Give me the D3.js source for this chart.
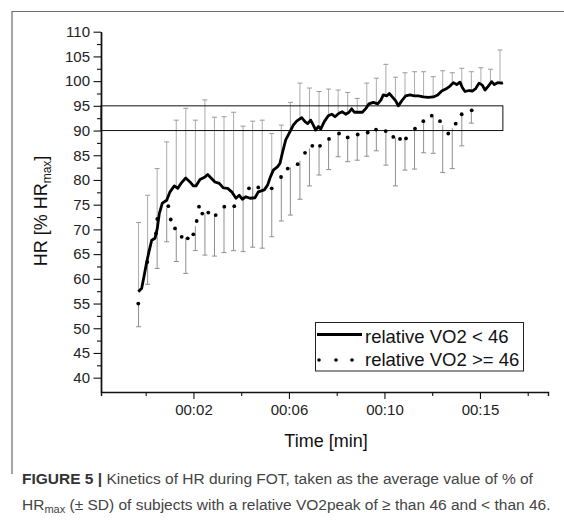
<!DOCTYPE html>
<html>
<head>
<meta charset="utf-8">
<script src="https://cdn.jsdelivr.net/npm/d3@7"></script>
<style>
  body { margin: 0; background: #fff; }
  svg { display: block; font-family: "Liberation Sans", Arial, sans-serif; }
</style>
</head>
<body>
<svg id="chart" width="564" height="523"></svg>
<script>
// x is measured in axis-tick units (ticks sit at 1..9)
const tickPos = [1, 2, 3, 4, 5, 6, 7, 8, 9];
const tickLabels = ["", "00:02", "", "00:06", "", "00:10", "", "00:15", ""];
const yMajor = [40, 45, 50, 55, 60, 65, 70, 75, 80, 85, 90, 95, 100, 105, 110];

// relative VO2 < 46 (solid line)
const solidT = [0.845,0.916,0.971,1.021,1.069,1.126,1.195,1.243,1.285,1.348,1.44,1.509,1.599,1.670,1.739,1.838,1.928,1.997,2.053,2.137,2.242,2.298,2.368,2.451,2.541,2.625,2.717,2.801,2.891,2.960,3.023,3.094,3.184,3.289,3.358,3.484,3.555,3.603,3.672,3.764,3.813,3.861,3.932,4.022,4.091,4.162,4.267,4.336,4.393,4.455,4.510,4.560,4.615,4.665,4.740,4.824,4.895,4.964,5.048,5.117,5.188,5.258,5.314,5.369,5.452,5.536,5.607,5.676,5.766,5.859,5.928,5.976,6.047,6.102,6.164,6.236,6.290,6.361,6.445,6.535,6.625,6.709,6.814,6.918,7.023,7.115,7.199,7.283,7.373,7.442,7.513,7.582,7.630,7.687,7.771,7.840,7.911,7.980,8.049,8.106,8.175,8.246,8.301,8.372,8.455,8.48];
const solidHR = [57.4,58.1,60.8,63.4,65.5,67.8,68.2,70.2,73.2,75.3,75.9,77.6,78.8,78.3,79.3,80.4,79.6,78.8,78.8,80.1,80.6,81.1,80.4,79.6,79.3,78.4,78.3,77.6,76.3,76.9,76.1,76.6,76.3,76.4,77.6,78.0,79.0,80.4,82.0,82.7,83.4,85.4,88.1,89.8,91.1,91.9,92.6,91.8,91.4,92.1,91.1,90.1,90.8,90.3,91.8,93.0,93.3,92.8,93.5,93.8,93.3,93.7,94.4,93.7,93.7,93.7,94.4,95.4,95.7,95.4,96.2,97.2,97.0,97.5,96.8,96.0,95.0,96.0,97.0,97.2,97.0,97.0,96.8,96.7,96.8,97.2,98.0,98.4,99.0,99.7,99.3,99.8,98.7,97.9,98.1,98.0,98.5,99.6,99.2,98.2,99.0,99.9,99.3,99.7,99.6,99.7];

// relative VO2 >= 46 (dotted)
const dotT = [0.845,1.034,1.216,1.243,1.473,1.524,1.614,1.754,1.880,1.997,2.068,2.116,2.185,2.311,2.466,2.646,2.855,3.163,3.358,3.639,3.834,3.974,4.183,4.336,4.489,4.650,4.839,5.048,5.230,5.440,5.649,5.823,6.026,6.185,6.326,6.451,6.640,6.814,6.990,7.163,7.337,7.492,7.618,7.827];
const dotHR = [55.0,63.4,69.2,72.1,74.7,72.0,70.2,68.5,68.2,69.0,71.7,74.6,73.2,73.4,72.9,74.6,74.7,78.3,78.5,78.3,80.6,82.3,83.2,85.5,86.9,86.9,88.3,89.4,88.6,89.2,89.6,90.2,89.9,88.7,88.3,88.4,90.4,91.9,93.0,91.9,89.4,91.4,93.3,94.1];

// SD bars: top = solid + SD, bottom = dotted - SD
const errT = [0.85,1.04,1.24,1.44,1.64,1.84,2.04,2.24,2.44,2.64,2.84,3.04,3.24,3.44,3.64,3.84,4.03,4.23,4.43,4.63,4.83,5.03,5.23,5.43,5.63,5.83,6.03,6.23,6.43,6.63,6.82,7.02,7.22,7.42,7.62,7.82,8.02,8.22,8.42];
const errHi = [71.4,76.9,82.3,87.7,92.1,94.5,92.1,96.2,92.7,92.8,93.7,90.9,91.9,92.1,89.4,91.1,95.7,99.6,98.6,97.9,98.4,98.2,97.7,96.5,99.6,100.6,103.4,100.8,101.7,101.9,101.9,100.9,102.1,101.7,102.6,101.9,102.7,102.4,106.3];
const errLo = [50.3,58.9,62.1,67.5,63.5,61.1,65.7,64.8,64.6,65.3,65.7,65.5,66.4,66.2,68.5,71.7,72.9,76.1,78.8,81.0,82.1,84.7,83.7,84.0,84.8,85.9,83.0,78.8,82.0,82.2,85.5,85.4,81.5,82.3,86.9,91.5,null,null,null];

const bandLow = 90, bandHigh = 95;
const seriesNames = ["relative VO2 < 46", "relative VO2 >= 46"];

const svg = d3.select("#chart");

const x = d3.scaleLinear().domain([0.064, 9.425]).range([101, 548]);
const y = d3.scaleLinear().domain([37.1, 110]).range([392, 31.7]);

// value of a series at t (to anchor the SD bars on their curve)
function valueAt(ts, vs, t) {
  const i = Math.max(1, Math.min(ts.length - 1, d3.bisectLeft(ts, t)));
  let f = (t - ts[i - 1]) / (ts[i] - ts[i - 1]);
  f = Math.max(0, Math.min(1, f));
  return vs[i - 1] + (vs[i] - vs[i - 1]) * f;
}

// figure frame (left + top)
svg.append("path")
  .attr("d", "M12,474V11.5H564")
  .attr("fill", "none")
  .attr("stroke", "#6a6a6a")
  .attr("stroke-width", 1.2);

// error bars
const bars = svg.append("g").attr("class", "err");
errT.forEach((t, k) => {
  const xp = x(t);
  const s = valueAt(solidT, solidHR, t);
  bars.append("line")
    .attr("x1", xp).attr("x2", xp)
    .attr("y1", y(s)).attr("y2", y(errHi[k]))
    .attr("stroke", "#ababab").attr("stroke-width", 1);
  bars.append("line")
    .attr("x1", xp - 2.5).attr("x2", xp + 2.5)
    .attr("y1", y(errHi[k])).attr("y2", y(errHi[k]))
    .attr("stroke", "#9a9a9a").attr("stroke-width", 1);
  if (errLo[k] != null) {
    const d = valueAt(dotT, dotHR, t);
    bars.append("line")
      .attr("x1", xp).attr("x2", xp)
      .attr("y1", y(d)).attr("y2", y(errLo[k]))
      .attr("stroke", "#8f8f8f").attr("stroke-width", 1);
    bars.append("line")
      .attr("x1", xp - 2.5).attr("x2", xp + 2.5)
      .attr("y1", y(errLo[k])).attr("y2", y(errLo[k]))
      .attr("stroke", "#8f8f8f").attr("stroke-width", 1);
  }
});

// 90-95 % band
svg.append("rect")
  .attr("x", x(x.domain()[0]))
  .attr("y", y(bandHigh))
  .attr("width", x(solidT[solidT.length - 1]) - x(x.domain()[0]))
  .attr("height", y(bandLow) - y(bandHigh))
  .attr("fill", "none")
  .attr("stroke", "#111")
  .attr("stroke-width", 1);

// solid series
const line = d3.line().x((d, i) => x(solidT[i])).y(d => y(d));
svg.append("path")
  .datum(solidHR)
  .attr("d", line)
  .attr("fill", "none")
  .attr("stroke", "#000")
  .attr("stroke-width", 2.8)
  .attr("stroke-linejoin", "round");

// dotted series
svg.append("g").selectAll("circle")
  .data(dotHR)
  .join("circle")
  .attr("cx", (d, i) => x(dotT[i]))
  .attr("cy", d => y(d))
  .attr("r", 1.9)
  .attr("fill", "#000");

// axes
function styleAxis(g) {
  g.selectAll(".domain").attr("stroke", "#111").attr("stroke-width", 1.4);
  g.selectAll(".tick line").attr("stroke", "#111").attr("stroke-width", 1.1);
  g.selectAll(".tick text")
    .attr("fill", "#222")
    .style("font-family", '"Liberation Sans", Arial, sans-serif')
    .style("font-size", "15px");
}

const yMinor = yMajor.slice(0, -1).map(v => v + 2.5);
svg.append("g")
  .attr("transform", "translate(101,0)")
  .call(d3.axisLeft(y).tickValues(yMinor).tickSize(4).tickSizeOuter(0).tickFormat(""))
  .call(styleAxis);
svg.append("g")
  .attr("transform", "translate(101,0)")
  .call(d3.axisLeft(y).tickValues(yMajor).tickSize(7.5).tickPadding(3.5).tickSizeOuter(0))
  .call(styleAxis);

svg.append("g")
  .attr("transform", "translate(0,392)")
  .call(d3.axisBottom(x).tickValues(tickPos).tickSizeOuter(0)
    .tickSize(4).tickPadding(8)
    .tickFormat((d, i) => tickLabels[i]))
  .call(styleAxis)
  .call(g => g.selectAll(".tick line")
    .attr("y2", (d, i) => tickLabels[i] ? 7 : 4));

// axis titles
svg.append("text")
  .attr("x", 326).attr("y", 446.5)
  .attr("text-anchor", "middle")
  .attr("font-size", 18).attr("fill", "#111")
  .text("Time [min]");

const yt = svg.append("text")
  .attr("transform", "translate(47,211) rotate(-90)")
  .attr("text-anchor", "middle")
  .attr("font-size", 18).attr("fill", "#111");
yt.append("tspan").text("HR [% HR");
yt.append("tspan").attr("font-size", 12).attr("dy", 4).text("max");
yt.append("tspan").attr("dy", -4).text("]");

// legend
const lg = svg.append("g");
lg.append("rect")
  .attr("x", 315.5).attr("y", 322.5).attr("width", 208).attr("height", 48.5)
  .attr("fill", "#fff").attr("stroke", "#222").attr("stroke-width", 1);
lg.append("line")
  .attr("x1", 317).attr("x2", 362).attr("y1", 334.5).attr("y2", 334.5)
  .attr("stroke", "#000").attr("stroke-width", 2.8);
lg.selectAll("circle.ld")
  .data([319, 336, 352])
  .join("circle")
  .attr("class", "ld")
  .attr("cx", d => d).attr("cy", 360).attr("r", 1.8).attr("fill", "#000");
lg.selectAll("text")
  .data(seriesNames)
  .join("text")
  .attr("x", 365)
  .attr("y", (d, i) => 342.5 + i * 23.4)
  .attr("font-size", 18.5).attr("fill", "#111")
  .text(d => d);

// caption
const cap = svg.append("g").attr("font-size", 15.5).attr("fill", "#444");
const c1 = cap.append("text").attr("x", 22).attr("y", 484);
c1.append("tspan").attr("font-weight", "bold").attr("fill", "#333").text("FIGURE 5 | ");
c1.append("tspan").text("Kinetics of HR during FOT, taken as the average value of % of");
const c2 = cap.append("text").attr("x", 22).attr("y", 510);
c2.append("tspan").text("HR");
c2.append("tspan").attr("font-size", 11).attr("dy", 3).text("max");
c2.append("tspan").attr("dy", -3).text(" (\u00B1 SD) of subjects with a relative VO2peak of \u2265 than 46 and < than 46.");
</script>
</body>
</html>
